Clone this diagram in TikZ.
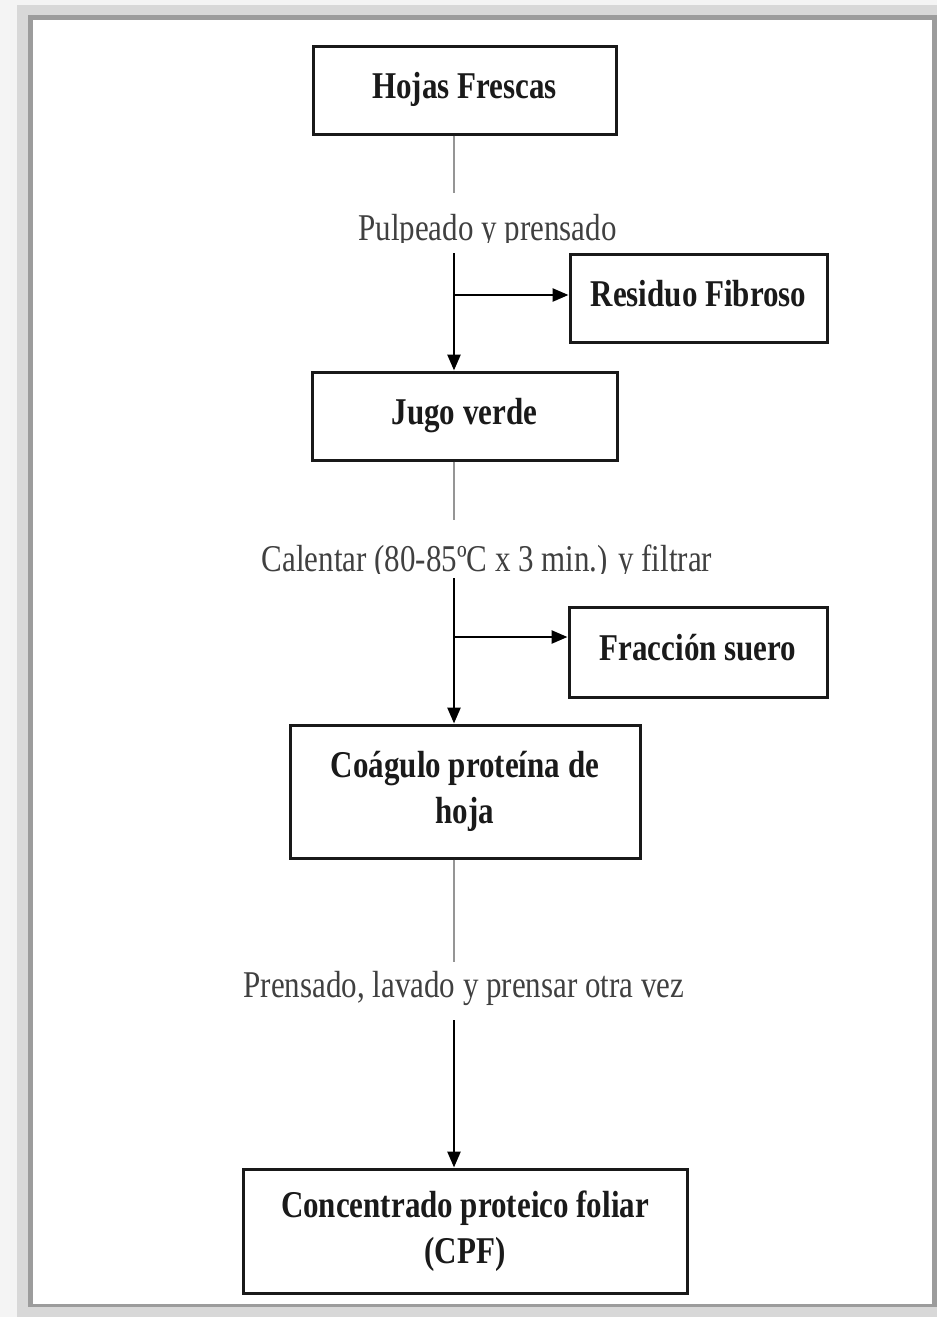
\documentclass[tikz,border=0pt]{standalone}
\usepackage{fontspec}
\setmainfont{Liberation Serif}[FakeStretch=0.82]
\usetikzlibrary{arrows.meta}
\definecolor{framegray}{HTML}{9C9C9C}
\definecolor{shadowgray}{HTML}{D8D8D8}
\definecolor{outergray}{HTML}{F4F4F4}
\definecolor{labelgray}{HTML}{404040}
\definecolor{textdark}{HTML}{1A1A1A}
\definecolor{linegray}{HTML}{959595}
\tikzset{
  box/.style 2 args={draw=black!90, line width=3pt, minimum width=#1, minimum height=#2,
    inner sep=0pt, font=\fontsize{37.8}{46}\selectfont\bfseries, text=textdark, align=center},
  onebox/.style={text height=26pt, text depth=9pt},
  steplabel/.style={inner sep=0pt, anchor=base, font=\fontsize{37.8}{46}\selectfont, text=labelgray},
  grayline/.style={draw=linegray, line width=2.4pt},
  flowarrow/.style={draw=black, line width=2.6pt, -{Triangle[length=16pt,width=13pt]}},
  branchline/.style={draw=black, line width=2.6pt}
}
\begin{document}
\begin{tikzpicture}[x=1pt,y=-1pt]
\useasboundingbox (0,0) rectangle (937,1317);
% frame
\fill[outergray] (0,0) rectangle (937,1317);
\fill[shadowgray] (17,5) rectangle (937,1317);
\fill[framegray] (28,15) rectangle (937,1307);
\fill[white] (33,20) rectangle (932,1304);

% trunk reference
\coordinate (trunk) at (454,0);

% boxes
\node[box={303pt}{88pt}, onebox] (hojas) at (464.5,90) {Hojas Frescas};
\node[box={257pt}{88pt}, onebox] (residuo) at (698.5,298) {Residuo Fibroso};
\node[box={305pt}{88pt}, onebox] (jugo) at (464.5,416) {Jugo verde};
\node[box={258pt}{90pt}, onebox] (fraccion) at (698,652) {Fracción suero};
\node[box={350pt}{133pt}] (coagulo) at (465,791.5) {Coágulo proteína de\\hoja};
\node[box={444pt}{124pt}] (cpf) at (465,1231) {Concentrado proteico foliar\\(CPF)};

% labels
\begin{scope}
\clip (250,200) rectangle (750,242.5);
\node[steplabel] (l1) at (487.5,240.5) {Pulpeado y prensado};
\end{scope}
\begin{scope}
\clip (200,530) rectangle (780,573);
\node[steplabel] (l2) at (487,571) {Calentar (80-85ºC x 3 min.) y filtrar};
\end{scope}
\node[steplabel] (l3) at (464,997) {Prensado, lavado y prensar otra vez};

% connector end points around the labels
\coordinate (g1) at (454,193);
\coordinate (s1) at (454,253);
\coordinate (b1) at (454,295);
\coordinate (g2) at (454,520);
\coordinate (s2) at (454,578);
\coordinate (b2) at (454,637);
\coordinate (g3) at (454,962);
\coordinate (s3) at (454,1020);

% connectors
\draw[grayline] (hojas.south -| trunk) -- (g1);
\draw[flowarrow] (s1) -- (jugo.north -| trunk);
\draw[flowarrow] (b1) -- (b1 -| residuo.west);

\draw[grayline] (jugo.south -| trunk) -- (g2);
\draw[flowarrow] (s2) -- (coagulo.north -| trunk);
\draw[flowarrow] (b2) -- (b2 -| fraccion.west);

\draw[grayline] (coagulo.south -| trunk) -- (g3);
\draw[flowarrow] (s3) -- (cpf.north -| trunk);
\end{tikzpicture}
\end{document}
